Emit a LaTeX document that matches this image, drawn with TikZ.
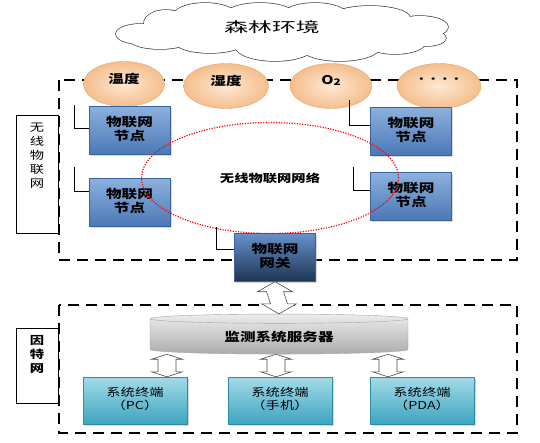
\documentclass[tikz,border=0pt]{standalone}
\usepackage{fontspec}
\setmainfont{Noto Sans CJK SC}[FakeStretch=1.3]
\newfontfamily\cloudfont{Noto Sans CJK SC}[FakeStretch=1.7]
\usepackage{tikz}
\usetikzlibrary{calc,shapes.geometric,shadows}
\definecolor{peachin}{HTML}{FDE8D4}
\definecolor{peachout}{HTML}{F5BE8C}
\definecolor{peachline}{HTML}{E3A56E}
\definecolor{bluetop}{HTML}{8DB1DE}
\definecolor{bluebot}{HTML}{4A78B6}
\definecolor{blueline}{HTML}{3A62A0}
\definecolor{gwtop}{HTML}{6791CB}
\definecolor{gwbot}{HTML}{1D3454}
\definecolor{cyantop}{HTML}{A3DBE8}
\definecolor{cyanbot}{HTML}{3EA4BF}
\definecolor{cyanline}{HTML}{2F8CA8}
% hollow double arrow: top point, bottom point, half head, half shaft, head length
\newcommand{\dblarrow}[5]{\draw[hollowarrow] (#1) -- ++(-#3,#5) -- ++({#3-#4},0)
  -- ($(#2)+(-#4,-#5)$) -- ++({#4-#3},0) -- (#2) -- ++(#3,-#5) -- ++({#4-#3},0)
  -- ($(#1)+(#4,#5)$) -- ++({#3-#4},0) -- cycle;}

\begin{document}
\begin{tikzpicture}[x=1pt,y=-1pt,
  dashbox/.style={draw=black, line width=1.4pt, dash pattern=on 11pt off 7pt},
  labelbox/.style={draw=black, line width=1pt, fill=white, minimum width=42pt},
  labeltext/.style={align=center, font=\fontsize{11}{14}\selectfont},
  sensor/.style={ellipse, draw=peachline, inner color=peachin, outer color=peachout,
    minimum height=45pt, text depth=12pt, font=\bfseries\fontsize{12}{14}\selectfont},
  iotnode/.style={draw=blueline, top color=bluetop, bottom color=bluebot,
    minimum width=81pt, minimum height=48pt, align=center, text depth=4pt,
    drop shadow={shadow xshift=1.5pt, shadow yshift=-1.5pt, fill=gray!60},
    font=\bfseries\fontsize{12}{14}\selectfont},
  gateway/.style={iotnode, top color=gwtop, bottom color=gwbot},
  terminal/.style={draw=cyanline, top color=cyantop, bottom color=cyanbot,
    minimum width=104pt, minimum height=47pt, align=center, text depth=4pt,
    drop shadow={shadow xshift=1.5pt, shadow yshift=-1.5pt, fill=gray!60},
    font=\fontsize{11}{13}\selectfont},
  bracket/.style={draw=black, line width=1pt},
  hollowarrow/.style={draw=gray!60!black, fill=white, line width=0.6pt, line join=miter}]
\useasboundingbox (0,0) rectangle (540,442);
\fill[white] (0,0) rectangle (540,442);
% cloud
\foreach \cx/\cy/\rx/\ry in {140/34/24/10, 166/23/22/13, 205/16/32/13, 260/15/35/12,
    315/15/32/12, 370/18/40/12, 420/27/28/11, 427/38/19/8, 395/43/30/11,
    340/47/40/14, 275/46/40/15, 210/42/35/11, 160/40/30/9}
  \draw[gray!50!black, line width=1.4pt] (\cx,\cy) ellipse [x radius=\rx, y radius=\ry];
\foreach \cx/\cy/\rx/\ry in {140/34/24/10, 166/23/22/13, 205/16/32/13, 260/15/35/12,
    315/15/32/12, 370/18/40/12, 420/27/28/11, 427/38/19/8, 395/43/30/11,
    340/47/40/14, 275/46/40/15, 210/42/35/11, 160/40/30/9, 280/32/140/18}
  \fill[white] (\cx,\cy) ellipse [x radius=\rx, y radius=\ry];
\node[font=\cloudfont\fontsize{14}{16}\selectfont] (env) at (272,27) {森林环境};
% dashed frames
\draw[dashbox] (59,80) rectangle (517,260);
\draw[dashbox] (59,305) rectangle (517,433);
% sensors
\node[sensor, minimum width=81pt] (temp) at (124,84) {温度};
\node[sensor, minimum width=85pt] (hum) at (226,86) {湿度};
\node[sensor, minimum width=82pt] (oxy) at (331,86) {O\raisebox{-1pt}{\fontsize{9}{9}\selectfont 2}};
\node[sensor, minimum width=84pt] (more) at (439,86) {\fontsize{9}{9}\selectfont ••••};
% wireless nodes
\node[iotnode] (n1) at (129.5,130.5) {物联网\\节点};
\node[iotnode] (n2) at (129.5,202.5) {物联网\\节点};
\node[iotnode] (n3) at (411,131) {物联网\\节点};
\node[iotnode] (n4) at (411,196) {物联网\\节点};
\node[gateway] (gw) at (275,257.5) {物联网\\网关};
\coordinate (b1) at (74,105);
\coordinate (b2) at (74,167);
\coordinate (b3) at (349,100);
\coordinate (b4) at (353,167);
\coordinate (b5) at (216,227);
\draw[bracket] (b1) |- ([yshift=2pt]n1.west);
\draw[bracket] (b2) |- ([yshift=11pt]n2.west);
\draw[bracket] (b3) |- ([yshift=6pt]n3.west);
\draw[bracket] (b4) |- ([yshift=6pt]n4.west);
\draw[bracket] (b5) |- ([yshift=8pt]gw.west);
\node[ellipse, draw=red, line width=1.2pt, dash pattern=on 1.2pt off 1.4pt,
  minimum width=257pt, minimum height=111pt,
  font=\bfseries\fontsize{11}{13}\selectfont] (net) at (270,178) {无线物联网网络};
% side labels
\node[labelbox, minimum height=118pt] (wsn) at (37,174.5) {};
\node[labeltext, anchor=north] at ([yshift=-4pt]wsn.north) {无\\线\\物\\联\\网};
\node[labelbox, minimum height=75pt] (inet) at (37,365.5) {};
\node[labeltext, anchor=north, font=\bfseries\fontsize{11}{14}\selectfont]
  at ([yshift=-4pt]inet.north) {因\\特\\网};
% server and terminals
\node[cylinder, shape border rotate=90, aspect=0.08, draw=gray!70,
  top color=gray!15, bottom color=gray!65, minimum width=258pt, minimum height=40pt,
  font=\bfseries\fontsize{12}{14}\selectfont] (srv) at (279,337) {监测系统服务器};
\node[terminal] (pc) at (135,400.5) {系统终端\\（PC）};
\node[terminal] (phone) at (280,400.5) {系统终端\\（手机）};
\node[terminal] (pda) at (422,400.5) {系统终端\\（PDA）};
\dblarrow{gw.south}{srv.north}{17.5}{8.5}{10}
\coordinate (t1) at ($(srv.south)+(-112,0)$);
\coordinate (t2) at ($(srv.south)+(-3,0)$);
\coordinate (t3) at ($(srv.south)+(109,0)$);
\dblarrow{t1}{t1 |- pc.north}{15.5}{9}{5}
\dblarrow{t2}{t2 |- phone.north}{15.5}{9}{5}
\dblarrow{t3}{t3 |- pda.north}{15.5}{9}{5}
\end{tikzpicture}
\end{document}
